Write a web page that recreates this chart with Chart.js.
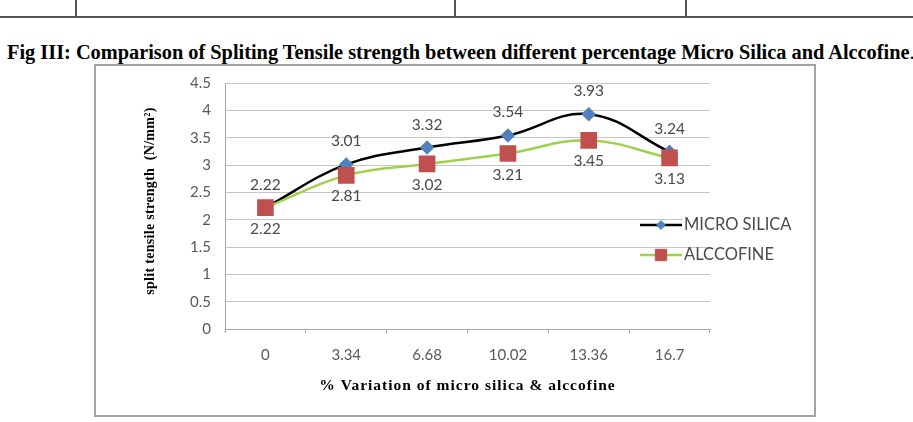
<!DOCTYPE html>
<html>
<head>
<meta charset="utf-8">
<script src="https://cdn.jsdelivr.net/npm/chart.js@4/dist/chart.umd.min.js"></script>
<style>
  html, body { margin:0; padding:0; background:#fff; }
  body { width:913px; height:422px; position:relative; overflow:hidden; }
  #c { position:absolute; left:0; top:0; }
  .hl { position:absolute; background:#555; }
  #title { position:absolute; left:7px; top:42px; white-space:nowrap; font-family:"Liberation Serif", "Times New Roman", serif; font-weight:bold; font-size:19px; line-height:1; color:#000; }
  #title .dot { font-weight:normal; }
</style>
</head>
<body>
<div class="hl" style="left:0;top:16px;width:913px;height:2px;"></div>
<div class="hl" style="left:75px;top:0;width:1.5px;height:17px;"></div>
<div class="hl" style="left:454px;top:0;width:1.5px;height:17px;"></div>
<div class="hl" style="left:685px;top:0;width:1.5px;height:17px;"></div>
<div id="title">Fig III: Comparison of Spliting Tensile strength between different percentage Micro Silica and Alccofine<span class="dot">.</span></div>
<canvas id="c" width="913" height="422"></canvas>
<script>
// ---- data ----
const categories = ['0', '3.34', '6.68', '10.02', '13.36', '16.7'];
const microSilica = [2.22, 3.01, 3.32, 3.54, 3.93, 3.24];
const alccofine = [2.22, 2.81, 3.02, 3.21, 3.45, 3.13];
const seriesNames = ['MICRO SILICA', 'ALCCOFINE'];
const yTitle = 'split tensile strength  (N/mm\u00B2)';
const xTitle = '% Variation of micro silica & alccofine';

// fit title width
(function(){
  const t = document.getElementById('title');
  const target = 908;
  const w = t.getBoundingClientRect().width;
  t.style.fontSize = (19 * target / w) + 'px';
})();

const tickFont = { family: 'Lato, "Open Sans", sans-serif', size: 15 };
const tickColor = '#595959';
const gridColor = '#c6c6c6';

const boxPlugin = {
  id: 'box',
  beforeDraw(chart) {
    const ctx = chart.ctx;
    ctx.save();
    ctx.fillStyle = '#fff';
    ctx.fillRect(95, 65, 720, 351);
    ctx.strokeStyle = '#a3a3a3';
    ctx.lineWidth = 2;
    ctx.strokeRect(95, 65, 720, 351);
    ctx.restore();
  }
};

const axisTitlePlugin = {
  id: 'axisTitles',
  afterDraw(chart) {
    const ctx = chart.ctx;
    const a = chart.chartArea;
    ctx.save();
    ctx.fillStyle = '#000';
    ctx.textAlign = 'center';
    ctx.textBaseline = 'middle';
    try { ctx.letterSpacing = '1px'; } catch (e) {}
    ctx.font = 'bold 15.5px "Liberation Serif", serif';
    ctx.fillText(xTitle, (a.left + a.right) / 2, a.bottom + 57);
    try { ctx.letterSpacing = '0.3px'; } catch (e) {}
    ctx.font = 'bold 14px "Liberation Serif", serif';
    ctx.translate(a.left - 75, a.top + 118);
    ctx.rotate(-Math.PI / 2);
    ctx.fillText(yTitle, 0, 0);
    ctx.restore();
  }
};

const labelPlugin = {
  id: 'valueLabels',
  afterDatasetsDraw(chart) {
    const ctx = chart.ctx;
    ctx.save();
    ctx.font = '15.5px Lato, "Open Sans", sans-serif';
    ctx.fillStyle = '#4a4a4a';
    ctx.textAlign = 'center';
    ctx.textBaseline = 'middle';
    chart.data.datasets.forEach((ds, i) => {
      const meta = chart.getDatasetMeta(i);
      meta.data.forEach((pt, j) => {
        const dy = i === 0 ? -23 : 21;
        ctx.fillText(ds.data[j].toFixed(2), pt.x, pt.y + dy);
      });
    });
    ctx.restore();
  }
};

const legendPlugin = {
  id: 'customLegend',
  afterDraw(chart) {
    const ctx = chart.ctx;
    const a = chart.chartArea;
    const x0 = a.right - 70, x1 = a.right - 28, tx = a.right - 27;
    const ys = [225, 255];
    ctx.save();
    ctx.font = '16.5px Lato, "Open Sans", sans-serif';
    ctx.textBaseline = 'middle';
    chart.data.datasets.forEach((ds, i) => {
      const y = ys[i];
      const tw = ctx.measureText(ds.label).width;
      ctx.fillStyle = '#fff';
      ctx.fillRect(tx, y - 7, tw + 4, 14);
      ctx.strokeStyle = ds.borderColor;
      ctx.lineWidth = ds.borderWidth;
      ctx.beginPath();
      ctx.moveTo(x0, y);
      ctx.lineTo(x1, y);
      ctx.stroke();
      ctx.fillStyle = ds.pointBackgroundColor;
      ctx.strokeStyle = ds.pointBorderColor;
      ctx.lineWidth = 1;
      Chart.helpers.drawPoint(ctx, { pointStyle: ds.pointStyle, radius: ds.pointRadius * 0.8, borderWidth: 1, rotation: 0 }, (x0 + x1) / 2, y);
      ctx.fillStyle = '#4a4a4a';
      ctx.fillText(ds.label, tx + 1, y);
    });
    ctx.restore();
  }
};

new Chart(document.getElementById('c'), {
  type: 'line',
  data: {
    labels: categories,
    datasets: [
      {
        label: seriesNames[0],
        data: microSilica,
        borderColor: '#000000',
        borderWidth: 2.5,
        tension: 0.4,
        pointStyle: 'rectRot',
        pointRadius: 5.5,
        pointHoverRadius: 5.5,
        pointBackgroundColor: '#4f81bd',
        pointBorderColor: '#4f81bd',
        order: 1
      },
      {
        label: seriesNames[1],
        data: alccofine,
        borderColor: '#9fd14e',
        borderWidth: 2.5,
        tension: 0.4,
        pointStyle: 'rect',
        pointRadius: 10,
        pointHoverRadius: 10,
        pointBackgroundColor: '#c0504d',
        pointBorderColor: '#c0504d',
        order: 0
      }
    ]
  },
  options: {
    responsive: false,
    animation: false,
    events: [],
    layout: { padding: { left: 135, right: 203, top: 83, bottom: 6 } },
    plugins: { legend: { display: false }, tooltip: { enabled: false }, title: { display: false } },
    scales: {
      x: {
        offset: true,
        grid: { display: true, offset: true, drawOnChartArea: false, drawTicks: true, tickLength: 4, color: '#a8a8a8' },
        border: { display: true, color: '#a8a8a8', width: 1 },
        ticks: { font: tickFont, color: tickColor, padding: 13, maxRotation: 0, autoSkip: false },
        afterFit(s) { s.height = 87; }
      },
      y: {
        min: 0, max: 4.5,
        ticks: { stepSize: 0.5, font: tickFont, color: tickColor, padding: 14, callback: (v) => String(v) },
        grid: { color: gridColor, drawTicks: false, lineWidth: 1 },
        border: { display: true, color: '#a8a8a8', width: 1 },
        afterFit(s) { s.width = 90; }
      }
    }
  },
  plugins: [boxPlugin, labelPlugin, legendPlugin, axisTitlePlugin]
});
</script>
</body>
</html>
